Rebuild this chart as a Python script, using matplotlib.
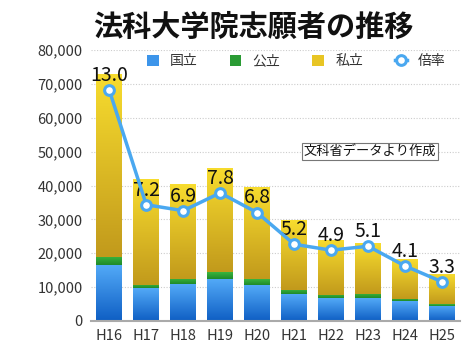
import numpy as np
import matplotlib
matplotlib.use("Agg")
import matplotlib.pyplot as plt
from matplotlib.colors import LinearSegmentedColormap

plt.rcParams['font.family'] = ['Noto Sans CJK JP', 'DejaVu Sans']

years = ['H16', 'H17', 'H18', 'H19', 'H20', 'H21', 'H22', 'H23', 'H24', 'H25']
kokuritsu = [16500, 9700, 10800, 12300, 10600, 7900, 6700, 6700, 5800, 4500]
kouritsu = [2400, 900, 1500, 2000, 1700, 1300, 900, 1200, 800, 500]
shiritsu = [53900, 31200, 28000, 30900, 27300, 20500, 16400, 15000, 11800, 8900]
bairitsu = [13.0, 7.2, 6.9, 7.8, 6.8, 5.2, 4.9, 5.1, 4.1, 3.3]

fig = plt.figure(figsize=(4.7, 3.53), dpi=100)
ax = fig.add_axes([0.194, 0.091, 0.785, 0.767])
x = np.arange(len(years))
w = 0.70

def grad_bars(bars, top, bottom):
    cmap = LinearSegmentedColormap.from_list('g', [bottom, top])
    g = np.linspace(0, 1, 64).reshape(-1, 1)
    for b in bars:
        x0, y0 = b.get_x(), b.get_y()
        im = ax.imshow(g, cmap=cmap, origin='lower', aspect='auto',
                       extent=[x0, x0 + b.get_width(), y0, y0 + b.get_height()], zorder=2)
        im.set_clip_path(b)

b1 = ax.bar(x, kokuritsu, w, color='#3d95ea', zorder=2, label='国立')
b2 = ax.bar(x, kouritsu, w, bottom=kokuritsu, color='#2a9b34', zorder=2, label='公立')
bot3 = np.array(kokuritsu) + np.array(kouritsu)
b3 = ax.bar(x, shiritsu, w, bottom=bot3, color='#e8c524', zorder=2, label='私立')
grad_bars(b1, '#52a9f7', '#0f5fc4')
grad_bars(b2, '#3ab53e', '#1f8a2a')
grad_bars(b3, '#f7dc2e', '#c29a1c')

ax.set_xlim(-0.49, 9.49)
ax.set_ylim(0, 80000)
ax.set_yticks(range(0, 80001, 10000))
ax.set_yticklabels([f'{v:,}' for v in range(0, 80001, 10000)])
ax.set_xticks(x)
ax.set_xticklabels(years)
ax.tick_params(length=0, labelsize=10.5, colors='#333333', pad=6)
ax.yaxis.grid(True, linestyle=(0, (1, 1.5)), color='#cccccc', linewidth=0.8, zorder=0)
ax.set_axisbelow(True)
for s in ['left', 'right', 'top']:
    ax.spines[s].set_visible(False)
ax.spines['bottom'].set_color('#aaaaaa')
ax.spines['bottom'].set_linewidth(1.5)

ax2 = ax.twinx()
ax2.set_ylim(1.32, 15.03)
ax2.set_axis_off()
ln, = ax2.plot(x, bairitsu, color='#4aa8f0', lw=2.5, marker='o', ms=7,
               mfc='white', mec='#4aa8f0', mew=2.2, label='倍率', zorder=5)
for xi, v in zip(x, bairitsu):
    ax2.annotate(f'{v:.1f}', (xi, v), xytext=(0, 3), textcoords='offset points',
                 ha='center', va='bottom', fontsize=14, color='#111111')

ax.legend([b1, b2, b3, ln], ['国立', '公立', '私立', '倍率'], ncol=4, frameon=False,
          loc='upper center', bbox_to_anchor=(0.556, 1.0), fontsize=10,
          handlelength=0.85, handleheight=0.85, columnspacing=2.3, handletextpad=0.8,
          borderaxespad=0.1, borderpad=0.2, labelcolor='#333333')

ax.text(0.756, 0.627, '文科省データより作成', transform=ax.transAxes, ha='center', va='center',
        fontsize=9.5, color='#111111',
        bbox=dict(boxstyle='square,pad=0.15', fc='white', ec='#777777', lw=0.8))

fig.text(0.54, 0.925, '法科大学院志願者の推移', ha='center', va='center',
         fontsize=21, fontweight='bold', color='#111111')

fig.savefig('out.png', dpi=100)
